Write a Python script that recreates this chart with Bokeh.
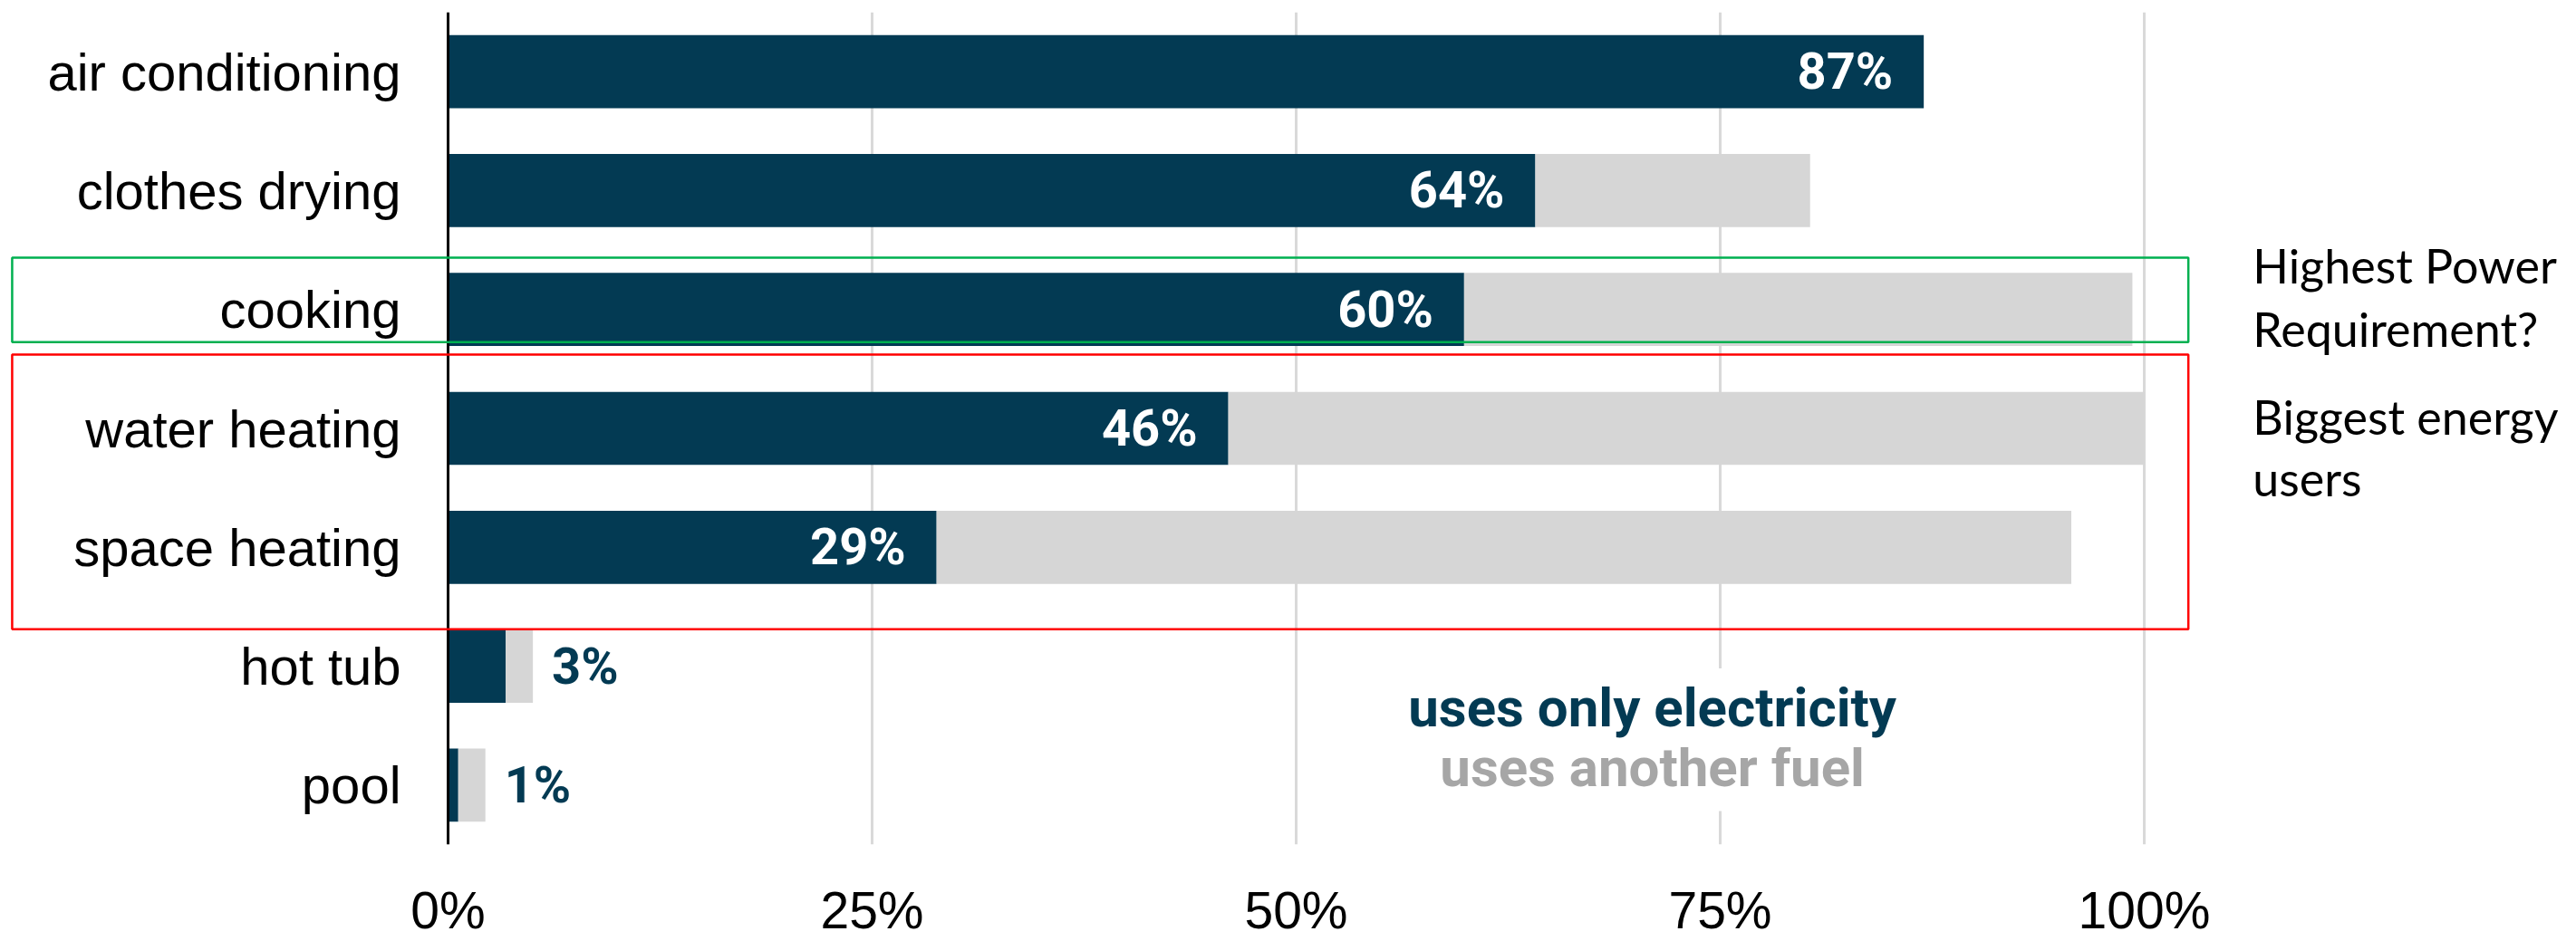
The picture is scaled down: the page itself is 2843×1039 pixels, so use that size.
from bokeh.plotting import figure
from bokeh.models import FactorRange, Range1d, FixedTicker, Label, BoxAnnotation, ColumnDataSource, Span
from bokeh.core.properties import value
from bokeh.embed import file_html
from bokeh.resources import INLINE

# ---- data ----
categories = ["air conditioning", "clothes drying", "cooking", "water heating",
              "space heating", "hot tub", "pool"]
electric_only = [87.0, 64.1, 59.9, 46.0, 28.8, 3.4, 0.6]
another_fuel = [0.0, 16.2, 39.4, 54.0, 66.9, 1.6, 1.6]
value_labels = ["87%", "64%", "60%", "46%", "29%", "3%", "1%"]
x_ticks = [0, 25, 50, 75, 100]
x_tick_labels = ["0%", "25%", "50%", "75%", "100%"]
legend_texts = ["uses only electricity", "uses another fuel"]
note_power = ["Highest Power", "Requirement?"]
note_energy = ["Biggest energy", "users"]

NAVY = "#033A53"
GRAY = "#D6D6D6"
LEGEND_GRAY = "#A6A6A6"

total = [e + o for e, o in zip(electric_only, another_fuel)]

p = figure(width=2843, height=1039,
           y_range=FactorRange(factors=categories[::-1]),
           x_range=Range1d(-26.39, 125.48),
           y_axis_location=None,
           output_backend="svg", toolbar_location=None,
           min_border_left=0, min_border_right=0,
           min_border_top=13, min_border_bottom=100)
p.outline_line_color = None
p.background_fill_color = "white"

src = ColumnDataSource(dict(cat=categories, elec=electric_only, total=total, lab=value_labels,
                            zero=[0] * len(categories)))
p.hbar(y="cat", left=0, right="elec", height=0.615, fill_color=NAVY, line_color=None, source=src)
p.hbar(y="cat", left="elec", right="total", height=0.615, fill_color=GRAY, line_color=None, source=src)

# category labels (left of the zero line)
p.text(x="zero", y="cat", text="cat", source=src, text_align="right", text_baseline="middle",
       x_offset=-52, text_color="black", text_font=value("Liberation Sans"),
       text_font_size="58px")

inside = [i for i, e in enumerate(electric_only) if e > 10]
outside = [i for i, e in enumerate(electric_only) if e <= 10]
src_in = ColumnDataSource(dict(x=[electric_only[i] for i in inside],
                               y=[categories[i] for i in inside],
                               t=[value_labels[i] for i in inside]))
src_out = ColumnDataSource(dict(x=[total[i] for i in outside],
                                y=[categories[i] for i in outside],
                                t=[value_labels[i] for i in outside]))
p.text(x="x", y="y", text="t", source=src_in, text_align="right", text_baseline="middle",
       x_offset=-34, text_color="white", text_font=value("Roboto"), text_font_style="bold",
       text_font_size="56px")
p.text(x="x", y="y", text="t", source=src_out, text_align="left", text_baseline="middle",
       x_offset=21, text_color=NAVY, text_font=value("Roboto"), text_font_style="bold",
       text_font_size="56px")

# zero line
p.add_layout(Span(location=0, dimension="height", line_color="black", line_width=3))

p.xaxis.axis_line_color = None
p.xaxis.major_tick_line_color = None
p.xaxis.minor_tick_line_color = None
p.xaxis.ticker = FixedTicker(ticks=x_ticks)
p.xaxis.major_label_overrides = {t: l for t, l in zip(x_ticks, x_tick_labels)}
p.xaxis.major_label_text_font = "Liberation Sans"
p.xaxis.major_label_text_font_size = "57px"
p.xaxis.major_label_text_color = "black"
p.xaxis.major_label_standoff = 34

p.xgrid.ticker = FixedTicker(ticks=x_ticks)
p.xgrid.grid_line_color = "#D9D9D9"
p.xgrid.grid_line_width = 3
p.ygrid.grid_line_color = None

# legend-like text
l2 = Label(x=71, y=0.644, text=legend_texts[1], text_align="center", text_baseline="alphabetic",
           text_font="Roboto", text_font_style="bold", text_font_size="60px",
           text_color=LEGEND_GRAY, background_fill_color="white", padding=12)
l1 = Label(x=71, y=1.15, text=legend_texts[0], text_align="center", text_baseline="alphabetic",
           text_font="Roboto", text_font_style="bold", text_font_size="60px",
           text_color=NAVY, background_fill_color="white", padding=8)
p.add_layout(l2)
p.add_layout(l1)

# highlight boxes
p.add_layout(BoxAnnotation(left=-25.7, right=102.6, top=4.935, bottom=4.225,
                           fill_alpha=0, line_color="#00B050", line_alpha=1, line_width=2.5))
p.add_layout(BoxAnnotation(left=-25.7, right=102.6, top=4.12, bottom=1.81,
                           fill_alpha=0, line_color="#FF0000", line_alpha=1, line_width=2.5))

# notes
for txt, yy in zip(note_power + note_energy, [4.87, 4.34, 3.60, 3.08]):
    p.add_layout(Label(x=106.4, y=yy, text=txt, text_align="left", text_baseline="alphabetic",
                       text_font="Lato", text_font_size="52px", text_color="black"))

open("out.html", "w").write(file_html(p, INLINE))
